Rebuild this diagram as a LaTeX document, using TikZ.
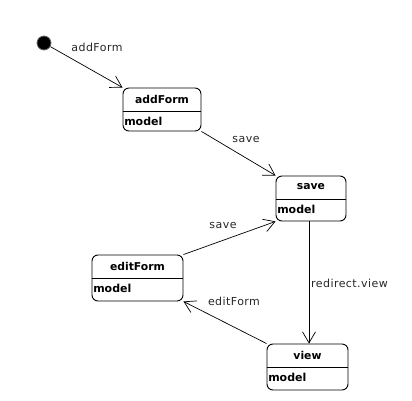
\documentclass[tikz,border=0pt]{standalone}
\usepackage{fontspec}
\setmainfont{DejaVu Sans}
\usetikzlibrary{arrows.meta,calc}
\tikzset{
  statebox/.style={draw=black, line width=0.9pt, fill=white, rounded corners=6pt, inner sep=0pt},
  stitle/.style={font=\fontsize{10.8}{12}\selectfont\bfseries, inner sep=0pt, anchor=center},
  sattr/.style={font=\fontsize{11}{12}\selectfont\bfseries, inner sep=0pt, anchor=west},
  elabel/.style={font=\fontsize{11}{12}\selectfont\addfontfeatures{LetterSpace=4}, inner sep=0pt, text=black!85},
  arr/.style={draw=black, line width=0.7pt, -{Straight Barb[length=11pt,width=13pt,line width=0.7pt]}},
  initial/.style={circle, fill=black, draw=black!60, line width=0.8pt, minimum size=14pt, inner sep=0pt}
}
\newcommand{\mystate}[6]{%
  % #1 name, #2 cx, #3 cy, #4 width, #5 height, #6 title
  \node[statebox, minimum width=#4pt, minimum height=#5pt] (#1) at (#2,#3) {};
  \node[stitle] (#1-t) at ($(#1.north)+(0,11.5)$) {#6};
  \draw[line width=0.8pt] ($(#1.north west)+(0,23.5)$) coordinate (#1-dl) -- ($(#1.north east)+(0,23.5)$) coordinate (#1-dr);
  \node[sattr] (#1-m) at ($(#1-dl)+(1.5,10.5)$) {model};
}
\begin{document}
\begin{tikzpicture}[x=1pt,y=-1pt]
\useasboundingbox (0,0) rectangle (412,401);
\node[initial] (init) at (44,43) {};
\mystate{addForm}{162}{109.5}{78}{43}{addForm}
\mystate{save}{311}{198.5}{70}{45}{save}
\mystate{editForm}{137.5}{278}{91}{46}{editForm}
\mystate{view}{307.5}{367}{81}{46}{view}

\draw[arr] (init) -- (addForm.north west);
\node[elabel] (l1) at (97,47) {addForm};
\draw[arr] (addForm.south east) -- (save.north west);
\node[elabel] (l2) at (246,139) {save};
\draw[arr] (editForm.north east) -- (save.south west);
\node[elabel] (l3) at (223,225) {save};
\draw[arr] ([xshift=-2pt]save.south) -- ([xshift=1.5pt]view.north);
\node[elabel, anchor=west] (l4) at (311,283) {redirect.view};
\draw[arr] (view.north west) -- (editForm.south east);
\node[elabel] (l5) at (234,301) {editForm};
\end{tikzpicture}
\end{document}
